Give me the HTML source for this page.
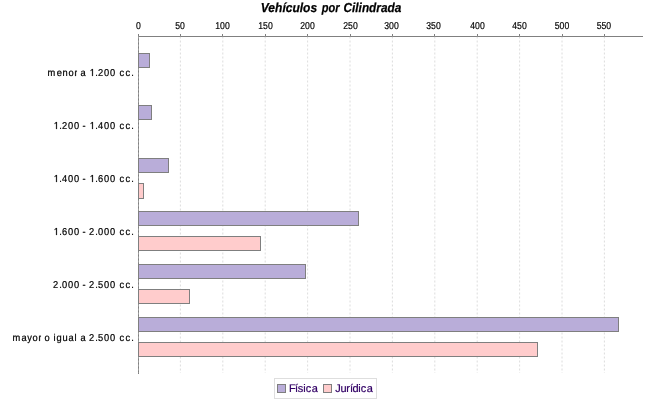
<!DOCTYPE html>
<html><head><meta charset="utf-8"><title>Vehículos por Cilindrada</title>
<style>
html,body{margin:0;padding:0;background:#fff;}
body{width:650px;height:400px;overflow:hidden;}
svg{display:block;}
text{font-family:"Liberation Sans",sans-serif;white-space:pre;}
.t{will-change:transform;}
.gp{text-rendering:geometricPrecision;}
</style></head><body>
<svg width="650" height="400" viewBox="0 0 650 400">
<rect x="0" y="0" width="650" height="400" fill="#ffffff"/>
<g class="t gp" font-weight="bold" font-style="italic" stroke="#000" stroke-width="0.25">
<text x="260.80" y="12.0" font-size="13" fill="#000" textLength="56.30" lengthAdjust="spacingAndGlyphs">Vehículos</text>
<text x="321.84" y="12.0" font-size="13" fill="#000" textLength="17.76" lengthAdjust="spacingAndGlyphs">por</text>
<text x="343.52" y="12.0" font-size="13" fill="#000" textLength="57.72" lengthAdjust="spacingAndGlyphs">Cilindrada</text>
</g>
<line x1="138.5" y1="36" x2="138.5" y2="374" stroke="#808080" stroke-width="1"/>
<line x1="138" y1="36.5" x2="643" y2="36.5" stroke="#808080" stroke-width="1"/>
<line x1="138.5" y1="36.5" x2="138.5" y2="373" stroke="#c0c0c0" stroke-opacity="0.5" stroke-width="1" stroke-dasharray="2,2"/>
<line x1="180.40" y1="36.5" x2="180.40" y2="373" stroke="#c0c0c0" stroke-width="0.55" stroke-dasharray="2,2"/>
<line x1="222.80" y1="36.5" x2="222.80" y2="373" stroke="#c0c0c0" stroke-width="0.55" stroke-dasharray="2,2"/>
<line x1="265.20" y1="36.5" x2="265.20" y2="373" stroke="#c0c0c0" stroke-width="0.55" stroke-dasharray="2,2"/>
<line x1="307.60" y1="36.5" x2="307.60" y2="373" stroke="#c0c0c0" stroke-width="0.55" stroke-dasharray="2,2"/>
<line x1="350.00" y1="36.5" x2="350.00" y2="373" stroke="#c0c0c0" stroke-width="0.55" stroke-dasharray="2,2"/>
<line x1="392.40" y1="36.5" x2="392.40" y2="373" stroke="#c0c0c0" stroke-width="0.55" stroke-dasharray="2,2"/>
<line x1="434.80" y1="36.5" x2="434.80" y2="373" stroke="#c0c0c0" stroke-width="0.55" stroke-dasharray="2,2"/>
<line x1="477.20" y1="36.5" x2="477.20" y2="373" stroke="#c0c0c0" stroke-width="0.55" stroke-dasharray="2,2"/>
<line x1="519.60" y1="36.5" x2="519.60" y2="373" stroke="#c0c0c0" stroke-width="0.55" stroke-dasharray="2,2"/>
<line x1="562.00" y1="36.5" x2="562.00" y2="373" stroke="#c0c0c0" stroke-width="0.55" stroke-dasharray="2,2"/>
<line x1="604.40" y1="36.5" x2="604.40" y2="373" stroke="#c0c0c0" stroke-width="0.55" stroke-dasharray="2,2"/>
<rect x="138.5" y="53.5" width="11" height="14" fill="#b9add9" stroke="#7f7f7f" stroke-width="1"/>
<rect x="138.5" y="105.5" width="13" height="14" fill="#b9add9" stroke="#7f7f7f" stroke-width="1"/>
<rect x="138.5" y="158.5" width="30" height="14" fill="#b9add9" stroke="#7f7f7f" stroke-width="1"/>
<rect x="138.5" y="211.5" width="220" height="14" fill="#b9add9" stroke="#7f7f7f" stroke-width="1"/>
<rect x="138.5" y="264.5" width="167" height="14" fill="#b9add9" stroke="#7f7f7f" stroke-width="1"/>
<rect x="138.5" y="317.5" width="480" height="14" fill="#b9add9" stroke="#7f7f7f" stroke-width="1"/>
<rect x="138.5" y="183.5" width="5" height="15" fill="#ffcccc" stroke="#7f7f7f" stroke-width="1"/>
<rect x="138.5" y="236.5" width="122" height="14" fill="#ffcccc" stroke="#7f7f7f" stroke-width="1"/>
<rect x="138.5" y="289.5" width="51" height="14" fill="#ffcccc" stroke="#7f7f7f" stroke-width="1"/>
<rect x="138.5" y="342.5" width="399" height="14" fill="#ffcccc" stroke="#7f7f7f" stroke-width="1"/>
<g class="t gp" stroke="#000" stroke-width="0.2">
<line x1="138.5" y1="34" x2="138.5" y2="36" stroke="#808080" stroke-width="1" />
<text transform="translate(138.50 29) scale(0.865 1)" text-anchor="middle" font-size="10" fill="#000" stroke-width="0.2">0</text>
<line x1="180.5" y1="34" x2="180.5" y2="36" stroke="#808080" stroke-width="1" />
<text transform="translate(180.10 29) scale(0.865 1)" text-anchor="middle" font-size="10" fill="#000" stroke-width="0.2">50</text>
<line x1="222.5" y1="34" x2="222.5" y2="36" stroke="#808080" stroke-width="1" />
<text transform="translate(222.50 29) scale(0.865 1)" text-anchor="middle" font-size="10" fill="#000" stroke-width="0.2">100</text>
<line x1="265.5" y1="34" x2="265.5" y2="36" stroke="#808080" stroke-width="1" />
<text transform="translate(265.50 29) scale(0.865 1)" text-anchor="middle" font-size="10" fill="#000" stroke-width="0.2">150</text>
<line x1="307.5" y1="34" x2="307.5" y2="36" stroke="#808080" stroke-width="1" />
<text transform="translate(307.50 29) scale(0.865 1)" text-anchor="middle" font-size="10" fill="#000" stroke-width="0.2">200</text>
<line x1="350.5" y1="34" x2="350.5" y2="36" stroke="#808080" stroke-width="1" />
<text transform="translate(350.50 29) scale(0.865 1)" text-anchor="middle" font-size="10" fill="#000" stroke-width="0.2">250</text>
<line x1="392.5" y1="34" x2="392.5" y2="36" stroke="#808080" stroke-width="1" />
<text transform="translate(391.50 29) scale(0.865 1)" text-anchor="middle" font-size="10" fill="#000" stroke-width="0.2">300</text>
<line x1="434.5" y1="34" x2="434.5" y2="36" stroke="#808080" stroke-width="1" />
<text transform="translate(433.50 29) scale(0.865 1)" text-anchor="middle" font-size="10" fill="#000" stroke-width="0.2">350</text>
<line x1="477.5" y1="34" x2="477.5" y2="36" stroke="#808080" stroke-width="1" />
<text transform="translate(477.50 29) scale(0.865 1)" text-anchor="middle" font-size="10" fill="#000" stroke-width="0.2">400</text>
<line x1="519.5" y1="34" x2="519.5" y2="36" stroke="#808080" stroke-width="1" />
<text transform="translate(519.50 29) scale(0.865 1)" text-anchor="middle" font-size="10" fill="#000" stroke-width="0.2">450</text>
<line x1="562.5" y1="34" x2="562.5" y2="36" stroke="#808080" stroke-width="1" />
<text transform="translate(562.00 29) scale(0.865 1)" text-anchor="middle" font-size="10" fill="#000" stroke-width="0.2">500</text>
<line x1="604.5" y1="34" x2="604.5" y2="36" stroke="#808080" stroke-width="1" />
<text transform="translate(603.90 29) scale(0.865 1)" text-anchor="middle" font-size="10" fill="#000" stroke-width="0.2">550</text>
</g>
<g class="t gp" font-size="10" fill="#000" stroke="#000" stroke-width="0.22">
<path d="M75.18 76.00L75.18 71.95Q75.18 71.39 75.15 70.72L75.92 70.72Q75.96 71.62 75.96 71.80L75.98 71.80Q76.09 71.12 76.23 70.87Q76.37 70.62 76.63 70.62Q76.72 70.62 76.81 70.67L76.81 71.47Q76.72 71.42 76.57 71.42Q76.29 71.42 76.14 71.90Q76.00 72.37 76.00 73.25L76.00 76.00Z"/>
<text transform="scale(0.93 1)" x="51.17 60.96 67.09 73.70 80.14 83.87 86.57 92.47 96.51 102.37 105.28 111.74 118.19 124.73 128.58 135.03 141.07" y="76">meno  a  .200 cc.</text>
<path d="M92.09 76.00 L92.09 69.96 L90.64 71.07 L90.64 70.24 L92.16 69.12 L92.91 69.12 L92.91 76.00Z"/>
<text transform="scale(0.93 1)" x="57.80 63.66 66.57 73.03 79.48 86.02 88.62 92.47 96.51 102.37 105.28 111.74 118.19 124.73 128.58 135.03 141.07" y="129"> .200 -  .400 cc.</text>
<path d="M56.09 129.00 L56.09 122.96 L54.64 124.07 L54.64 123.24 L56.16 122.12 L56.91 122.12 L56.91 129.00Z"/>
<path d="M92.09 129.00 L92.09 122.96 L90.64 124.07 L90.64 123.24 L92.16 122.12 L92.91 122.12 L92.91 129.00Z"/>
<text transform="scale(0.93 1)" x="57.80 63.66 66.57 73.03 79.48 86.02 88.62 92.47 96.51 102.37 105.29 111.74 118.19 124.73 128.58 135.03 141.07" y="182"> .400 -  .600 cc.</text>
<path d="M56.09 182.00 L56.09 175.96 L54.64 177.07 L54.64 176.24 L56.16 175.12 L56.91 175.12 L56.91 182.00Z"/>
<path d="M92.09 182.00 L92.09 175.96 L90.64 177.07 L90.64 176.24 L92.16 175.12 L92.91 175.12 L92.91 182.00Z"/>
<text transform="scale(0.93 1)" x="57.80 63.66 66.58 73.03 79.48 86.02 88.62 92.47 95.61 102.37 105.28 111.74 118.19 124.73 128.58 135.03 141.07" y="235"> .600 - 2.000 cc.</text>
<path d="M56.09 235.00 L56.09 228.96 L54.64 230.07 L54.64 229.24 L56.16 228.12 L56.91 228.12 L56.91 235.00Z"/>
<text transform="scale(0.93 1)" x="56.90 63.66 66.57 73.03 79.48 86.02 88.62 92.47 95.61 102.37 105.28 111.74 118.19 124.73 128.58 135.03 141.07" y="288">2.000 - 2.500 cc.</text>
<path d="M39.18 341.00L39.18 336.95Q39.18 336.39 39.15 335.72L39.92 335.72Q39.96 336.62 39.96 336.80L39.98 336.80Q40.09 336.12 40.23 335.87Q40.37 335.62 40.63 335.62Q40.72 335.62 40.81 335.67L40.81 336.47Q40.72 336.42 40.57 336.42Q40.29 336.42 40.14 336.90Q40.00 337.37 40.00 338.25L40.00 341.00Z"/>
<text transform="scale(0.93 1)" x="13.54 23.24 29.22 35.05 41.43 45.16 47.84 53.76 57.50 60.63 67.09 73.67 80.08 82.80 86.57 92.47 95.61 102.37 105.28 111.74 118.19 124.73 128.58 135.03 141.07" y="341">mayo  o igual a 2.500 cc.</text>
</g>
<rect x="274.5" y="378.5" width="102" height="20" fill="#fff" stroke="#dedede" stroke-width="1"/>
<rect x="277.5" y="384.5" width="8" height="8" fill="#b9add9" stroke="#7f7f7f"/>
<rect x="323.5" y="384.5" width="8" height="8" fill="#ffcccc" stroke="#7f7f7f"/>
<g class="t gp" font-size="11" fill="#330066" stroke="#330066" stroke-width="0.2">
<text x="289.10 294.98 297.80 303.28 305.66 311.73" y="392">Física</text>
<text x="335.33 340.47 346.26 349.98 352.61 358.28 360.66 366.73" y="392">Jurídica</text>
</g>
</svg>
</body></html>
